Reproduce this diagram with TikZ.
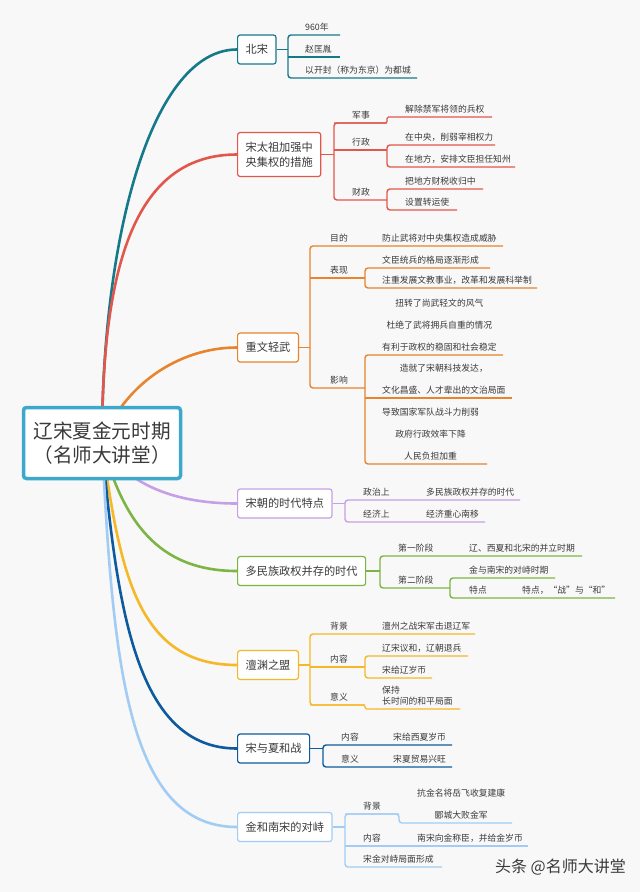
\documentclass[tikz,border=0pt]{standalone}
\usepackage{fontspec}
\setmainfont{Noto Sans CJK SC}

\definecolor{mapBg}{HTML}{F8F8F8}
\definecolor{mapText}{HTML}{3A3A3A}
\definecolor{mapRoot}{HTML}{3DA8CB}
\definecolor{mapTeal}{HTML}{16798A}
\definecolor{mapRed}{HTML}{E2574C}
\definecolor{mapOrange}{HTML}{E8832E}
\definecolor{mapPurple}{HTML}{C6A0E6}
\definecolor{mapGreen}{HTML}{7DB544}
\definecolor{mapYellow}{HTML}{F5B828}
\definecolor{mapNavy}{HTML}{0D5A9E}
\definecolor{mapSky}{HTML}{A2CCF3}

\tikzset{
  hubbox/.style={draw=mapRoot, line width=3.5pt, rounded corners=3pt, fill=white,
    minimum width=157pt, minimum height=71pt, align=center, text=mapText,
    font=\fontsize{19.6}{24}\selectfont},
  topic/.style={draw, line width=1.2pt, rounded corners=2.5pt, fill=white, anchor=west,
    inner xsep=8pt, minimum height=29pt, align=left, text=mapText,
    font=\fontsize{11.2}{15}\selectfont},
  leaf/.style={anchor=south west, inner sep=0pt, align=left, text=mapText},
  limb/.style={line width=2.6pt},
  twig/.style={line width=1.4pt, rounded corners=3pt},
  jog/.style={line width=1.4pt, rounded corners=1.5pt},
}

\begin{document}
\begin{tikzpicture}[x=1pt,y=-1pt,font=\fontsize{8.8}{11}\selectfont]
  \fill[mapBg] (0,0) rectangle (640,892);
  \useasboundingbox (0,0) rectangle (640,892);
  \coordinate (hub) at (102,443);

  % main topics
  \node[topic, draw=mapTeal] (beisong) at (237,49.5) {北宋};
  \node[topic, draw=mapRed, minimum height=44pt] (taizu) at (237,154.5) {宋太祖加强中\\央集权的措施};
  \node[topic, draw=mapOrange] (zhongwen) at (237,347.5) {重文轻武};
  \node[topic, draw=mapPurple] (tedian) at (237,503.5) {宋朝的时代特点};
  \node[topic, draw=mapGreen] (binglie) at (237,571) {多民族政权并存的时代};
  \node[topic, draw=mapYellow] (chanyuan) at (237,665) {澶渊之盟};
  \node[topic, draw=mapNavy] (songxia) at (237,748.5) {宋与夏和战};
  \node[topic, draw=mapSky] (jinsong) at (237,827) {金和南宋的对峙};

  \draw[limb, mapTeal] (hub) .. controls (102,235) and (152,49.5) .. (beisong.west);
  \draw[limb, mapRed] (hub) .. controls (102,260) and (137,154.5) .. (taizu.west);
  \draw[limb, mapOrange] (hub) .. controls (122,387) and (177,347.5) .. (zhongwen.west);
  \draw[limb, mapPurple] (hub) .. controls (127,486) and (177,503.5) .. (tedian.west);
  \draw[limb, mapGreen] (hub) .. controls (123,520) and (157,571) .. (binglie.west);
  \draw[limb, mapYellow] (hub) .. controls (120,572) and (137,665) .. (chanyuan.west);
  \draw[limb, mapNavy] (hub) .. controls (117,612) and (137,748.5) .. (songxia.west);
  \draw[limb, mapSky] (hub) .. controls (113,663) and (127,827) .. (jinsong.west);

  % 北宋
  \draw[twig, mapTeal] (beisong.east) -- (288,49.5);
  \draw[twig, mapTeal] (340,35) -- (288,35) -- (288,78) -- (417,78);
  \draw[twig, mapTeal] (288,57) -- (340,57);
  \node[leaf] (bs1) at (305,31.5) {960年};
  \node[leaf] (bs2) at (305,53.5) {赵匡胤};
  \node[leaf] (bs3) at (305,74.5) {以开封（称为东京）为都城};

  % 宋太祖
  \draw[twig, mapRed] (taizu.east) -- (334,154.5);
  \draw[twig, mapRed] (387,123) -- (334,123) -- (334,200) -- (387,200);
  \draw[jog, mapRed] (334,123) -- (387,123) -- (387,117) -- (492,117);
  \draw[twig, mapRed] (334,150) -- (387,150);
  \draw[twig, mapRed] (495,145) -- (387,145) -- (387,167) -- (515,167);
  \draw[twig, mapRed] (483,189) -- (387,189) -- (387,210) -- (457,210);
  \node[leaf] (junshi) at (352,119.5) {军事};
  \node[leaf] (junshi1) at (405,113.5) {解除禁军将领的兵权};
  \node[leaf] (xingzheng) at (352,146.5) {行政};
  \node[leaf] (xingzheng1) at (405,141.5) {在中央，削弱宰相权力};
  \node[leaf] (xingzheng2) at (405,163.5) {在地方，安排文臣担任知州};
  \node[leaf] (caizheng) at (352,196.5) {财政};
  \node[leaf] (caizheng1) at (405,185.5) {把地方财税收归中};
  \node[leaf] (caizheng2) at (405,206.5) {设置转运使};

  % 重文轻武
  \draw[twig, mapOrange] (zhongwen.east) -- (310,347.5);
  \draw[twig, mapOrange] (503,246) -- (310,246) -- (310,388) -- (365,388);
  \draw[twig, mapOrange] (310,278) -- (365,278);
  \draw[twig, mapOrange] (490,268) -- (365,268) -- (365,288) -- (537,288);
  \draw[twig, mapOrange] (503,355) -- (365,355) -- (365,464) -- (487,464);
  \draw[twig, mapOrange] (365,398) -- (512,398);
  \node[leaf] (mudi) at (330,242.5) {目的};
  \node[leaf] (mudi1) at (382,242.5) {防止武将对中央集权造成威胁};
  \node[leaf] (biaoxian) at (330,274.5) {表现};
  \node[leaf] (biaoxian1) at (382,264.5) {文臣统兵的格局逐渐形成};
  \node[leaf] (biaoxian2) at (382,284.5) {注重发展文教事业，改革和发展科举制};
  \node[leaf] (yingxiang) at (330,384.5) {影响};
  \node[leaf, align=center, font=\fontsize{8.8}{22}\selectfont] (yingxiang1) at (382,351.5)
    {扭转了尚武轻文的风气\\杜绝了武将拥兵自重的情况\\有利于政权的稳固和社会稳定};
  \node[leaf, align=center, font=\fontsize{8.8}{22}\selectfont] (yingxiang2) at (382,394.5)
    {造就了宋朝科技发达，\\文化昌盛、人才辈出的文治局面};
  \node[leaf, align=center, font=\fontsize{8.8}{22}\selectfont] (yingxiang3) at (382,460.5)
    {导致国家军队战斗力削弱\\政府行政效率下降\\人民负担加重};

  % 宋朝的时代特点
  \draw[twig, mapPurple] (tedian.east) -- (345,503.5);
  \draw[twig, mapPurple] (520,500) -- (345,500) -- (345,522) -- (485,522);
  \node[leaf] (zhengzhi) at (363,496.5) {政治上};
  \node[leaf] (zhengzhi1) at (426,496.5) {多民族政权并存的时代};
  \node[leaf] (jingji) at (363,518.5) {经济上};
  \node[leaf] (jingji1) at (426,518.5) {经济重心南移};

  % 多民族政权并存的时代
  \draw[twig, mapGreen] (binglie.east) -- (380,571);
  \draw[twig, mapGreen] (582,556) -- (380,556) -- (380,588) -- (450,588);
  \draw[twig, mapGreen] (555,578) -- (450,578) -- (450,598) -- (615,598);
  \node[leaf] (jieduan1) at (398,552.5) {第一阶段};
  \node[leaf] (jieduan1a) at (469,552.5) {辽、西夏和北宋的并立时期};
  \node[leaf] (jieduan2) at (398,584.5) {第二阶段};
  \node[leaf] (jieduan2a) at (469,574.5) {金与南宋的对峙时期};
  \node[leaf] (jieduan2b) at (469,594.5) {特点};
  \node[leaf] (jieduan2c) at (522,594.5) {特点，“战”与“和”};

  % 澶渊之盟
  \draw[twig, mapYellow] (chanyuan.east) -- (310,665);
  \draw[twig, mapYellow] (475,634) -- (310,634) -- (310,705) -- (365,705);
  \draw[jog, mapYellow] (310,705) -- (365,705) -- (365,709) -- (460,709);
  \draw[twig, mapYellow] (310,667) -- (365,667);
  \draw[twig, mapYellow] (468,656) -- (365,656) -- (365,678) -- (432,678);
  \node[leaf] (beijing) at (330,630.5) {背景};
  \node[leaf] (beijing1) at (382,630.5) {澶州之战宋军击退辽军};
  \node[leaf] (neirong) at (330,663.5) {内容};
  \node[leaf] (neirong1) at (382,652.5) {辽宋议和，辽朝退兵};
  \node[leaf] (neirong2) at (382,674.5) {宋给辽岁币};
  \node[leaf] (yiyi) at (330,701.5) {意义};
  \node[leaf] (yiyi1) at (382,705.5) {保持\\长时间的和平局面};

  % 宋与夏和战
  \draw[twig, mapNavy] (songxia.east) -- (323,748.5);
  \draw[twig, mapNavy] (452,745) -- (323,745) -- (323,767) -- (452,767);
  \node[leaf] (xianei) at (341,741.5) {内容};
  \node[leaf] (xianei1) at (393,741.5) {宋给西夏岁币};
  \node[leaf] (xiayi) at (341,763.5) {意义};
  \node[leaf] (xiayi1) at (393,763.5) {宋夏贸易兴旺};

  % 金和南宋的对峙
  \draw[twig, mapSky] (jinsong.east) -- (345,827);
  \draw[twig, mapSky] (399,814) -- (345,814) -- (345,867) -- (442,867);
  \draw[twig, mapSky] (345,814) -- (399,814) -- (399,823) -- (512,823);
  \draw[twig, mapSky] (345,846) -- (528,846);
  \node[leaf] (jinbei) at (363,810.5) {背景};
  \node[leaf, align=center, font=\fontsize{8.8}{22}\selectfont] (jinbei1) at (417,819.5)
    {抗金名将岳飞收复建康\\郾城大败金军};
  \node[leaf] (jinnei) at (363,842.5) {内容};
  \node[leaf] (jinnei1) at (417,842.5) {南宋向金称臣，并给金岁币};
  \node[leaf] (duizhi) at (363,863.5) {宋金对峙局面形成};

  \node[anchor=east, inner sep=0pt, text=mapText, font=\fontsize{16}{16}\selectfont] (mark) at (626,867) {头条 @名师大讲堂};

  \node[hubbox] (root) at (hub) {辽宋夏金元时期\\（名师大讲堂）};
\end{tikzpicture}
\end{document}
